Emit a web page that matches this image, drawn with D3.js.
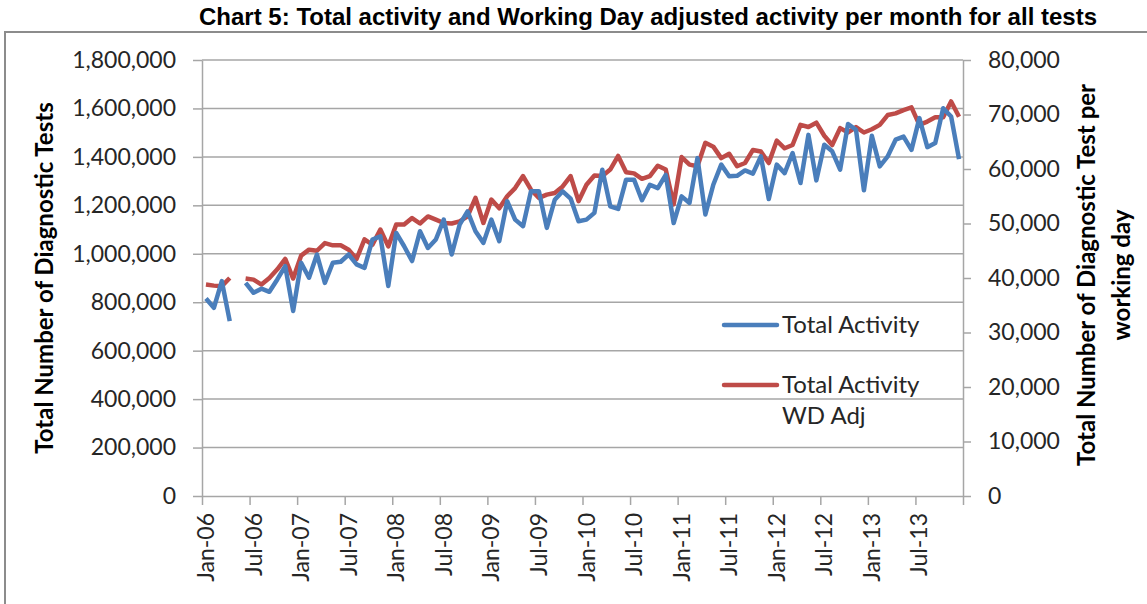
<!DOCTYPE html>
<html>
<head>
<meta charset="utf-8">
<script src="https://cdn.jsdelivr.net/npm/d3@7"></script>
<style>
  body { margin: 0; background: #fff; }
  svg { display: block; }
  .tick text { font-family: Lato, "Open Sans", sans-serif; }
</style>
</head>
<body>
<div id="chart"></div>
<script>
// Chart 5 - total activity vs working day adjusted activity, Jan-06 .. Dec-13
// months run Jan-06 to Dec-13, May-06 has no value
const startMonth = new Date(2006, 0, 1);
const monthCount = 96;

const tickLabels = ['Jan-06', 'Jul-06', 'Jan-07', 'Jul-07', 'Jan-08', 'Jul-08', 'Jan-09', 'Jul-09',
  'Jan-10', 'Jul-10', 'Jan-11', 'Jul-11', 'Jan-12', 'Jul-12', 'Jan-13', 'Jul-13'];

// total activity (left axis)
const totalActivity = [
  815000, 777000, 887000, 722000, null, 880000, 839000, 856000, 843000, 894000, 949000, 764000,
  963000, 901000, 997000, 880000, 963000, 967000, 997000, 956000, 942000, 1059000, 1072000, 867000,
  1086000, 1031000, 970000, 1093000, 1024000, 1059000, 1141000, 997000, 1120000, 1175000, 1093000, 1045000,
  1141000, 1052000, 1217000, 1141000, 1114000, 1258000, 1258000, 1107000, 1223000, 1258000, 1228000, 1134000,
  1141000, 1169000, 1347000, 1196000, 1185000, 1306000, 1306000, 1221000, 1285000, 1271000, 1326000, 1127000,
  1237000, 1210000, 1395000, 1162000, 1285000, 1368000, 1320000, 1322000, 1344000, 1331000, 1402000, 1226000,
  1368000, 1333000, 1416000, 1292000, 1491000, 1303000, 1450000, 1423000, 1347000, 1536000, 1512000, 1262000,
  1487000, 1361000, 1402000, 1471000, 1484000, 1429000, 1560000, 1440000, 1457000, 1601000, 1567000, 1391000
];

// working day adjusted activity (right axis)
const wdAdjusted = [
  38800, 38600, 38500, 40000, null, 39900, 39700, 38800, 40000, 41600, 43500, 39900,
  44100, 45200, 45000, 46400, 46000, 46000, 45200, 43500, 47100, 46100, 48900, 45800,
  49800, 49800, 51000, 50000, 51300, 50700, 50100, 50000, 50400, 51300, 54700, 50100,
  54400, 52800, 55000, 56500, 58700, 56200, 54700, 55300, 55600, 56800, 58700, 54100,
  57100, 58800, 58700, 59900, 62400, 59400, 59200, 58200, 58700, 60600, 59900, 53500,
  62200, 60800, 60500, 64800, 64100, 62000, 62800, 60500, 61100, 63500, 63200, 61100,
  65200, 63800, 64400, 68100, 67700, 68500, 66100, 64400, 67500, 66700, 67700, 66700,
  67300, 68100, 69900, 70200, 70800, 71300, 68100, 68700, 69500, 69500, 72400, 69600
];

const leftTicks = [0, 200000, 400000, 600000, 800000, 1000000, 1200000, 1400000, 1600000, 1800000];
const rightTicks = [0, 10000, 20000, 30000, 40000, 50000, 60000, 70000, 80000];

const W = 1147, H = 604;
const plot = { left: 202, right: 963, top: 60, bottom: 496 };
const blue = '#4a7ebb', red = '#be4b48';
const gridColor = '#a6a6a6';
const font = 'Lato, "Open Sans", sans-serif';

function draw() {
  const svg = d3.select('#chart').append('svg')
    .attr('width', W).attr('height', H);

  // outer frame of the chart object
  svg.append('rect')
    .attr('x', 5).attr('y', 32).attr('width', 1200).attr('height', 700)
    .attr('fill', 'none').attr('stroke', '#8c8c8c').attr('stroke-width', 2);

  svg.append('text')
    .attr('x', 1097).attr('y', 25)
    .attr('text-anchor', 'end')
    .style('font-family', '"Liberation Sans", Arial, sans-serif')
    .style('font-weight', 'bold').style('font-size', '24px')
    .text('Chart 5: Total activity and Working Day adjusted activity per month for all tests');

  const months = d3.timeMonth.range(startMonth, d3.timeMonth.offset(startMonth, monthCount));
  const x = d3.scaleLinear().domain([0, months.length]).range([plot.left, plot.right]);
  const yL = d3.scaleLinear().domain([0, 1800000]).range([plot.bottom, plot.top]);
  const yR = d3.scaleLinear().domain([0, 80000]).range([plot.bottom, plot.top]);

  // gridlines
  svg.append('g').selectAll('line')
    .data(leftTicks.slice(1))
    .enter().append('line')
    .attr('x1', plot.left).attr('x2', plot.right)
    .attr('y1', d => yL(d)).attr('y2', d => yL(d))
    .attr('stroke', gridColor).attr('stroke-width', 1.5);

  const styleAxis = g => {
    g.select('.domain').attr('stroke', gridColor).attr('stroke-width', 1.5);
    g.selectAll('.tick line').attr('stroke', gridColor).attr('stroke-width', 1.5);
    g.selectAll('.tick text').attr('fill', '#262626').style('font-size', '23px');
  };

  svg.append('g')
    .attr('transform', `translate(${plot.left},0)`)
    .call(d3.axisLeft(yL).tickValues(leftTicks).tickFormat(d3.format(',')).tickSize(9).tickPadding(17).tickSizeOuter(0))
    .call(styleAxis);

  svg.append('g')
    .attr('transform', `translate(${plot.right},0)`)
    .call(d3.axisRight(yR).tickValues(rightTicks).tickFormat(d3.format(',')).tickSize(8).tickPadding(17).tickSizeOuter(0))
    .call(styleAxis);

  // x axis: ticks on month boundaries every 6 months, labels centred on the month
  const xAxis = svg.append('g').attr('transform', `translate(0,${plot.bottom})`);
  xAxis.call(d3.axisBottom(x).tickValues(d3.range(0, months.length + 1, 6)).tickFormat('').tickSize(9).tickSizeOuter(0))
    .call(styleAxis);
  xAxis.selectAll('.lbl')
    .data(tickLabels)
    .enter().append('text')
    .attr('class', 'lbl')
    .attr('transform', (d, i) => `translate(${x(i * 6 + 0.5)},17) rotate(-90)`)
    .attr('text-anchor', 'end')
    .attr('dy', '0.35em')
    .attr('fill', '#262626')
    .style('font-family', font)
    .style('font-size', '23px')
    .text(d => d);

  // series lines, gap where there is no value
  const lineL = d3.line().defined(d => d != null).x((d, i) => x(i + 0.5)).y(d => yL(d));
  const lineR = d3.line().defined(d => d != null).x((d, i) => x(i + 0.5)).y(d => yR(d));

  svg.append('path').datum(wdAdjusted)
    .attr('d', lineR).attr('fill', 'none')
    .attr('stroke', red).attr('stroke-width', 4.5).attr('stroke-linejoin', 'round');
  svg.append('path').datum(totalActivity)
    .attr('d', lineL).attr('fill', 'none')
    .attr('stroke', blue).attr('stroke-width', 4.5).attr('stroke-linejoin', 'round');

  // axis titles
  svg.append('text')
    .attr('transform', 'translate(53,278) rotate(-90)')
    .attr('text-anchor', 'middle')
    .style('font-family', font)
    .style('font-weight', 'bold').style('font-size', '24px')
    .text('Total Number of Diagnostic Tests');

  const rt = svg.append('text')
    .attr('transform', 'translate(1095,275) rotate(-90)')
    .attr('text-anchor', 'middle')
    .style('font-family', font)
    .style('font-weight', 'bold').style('font-size', '24px');
  rt.append('tspan').attr('x', 0).attr('y', 0).text('Total Number of Diagnostic Test per');
  rt.append('tspan').attr('x', 0).attr('y', 35).text('working day');

  // legend
  const legend = [
    { name: ['Total Activity'], color: blue, y: 325 },
    { name: ['Total Activity', 'WD Adj'], color: red, y: 385 }
  ];
  const lg = svg.append('g').selectAll('g').data(legend).enter().append('g');
  lg.append('line')
    .attr('x1', 724).attr('x2', 777)
    .attr('y1', d => d.y).attr('y2', d => d.y)
    .attr('stroke', d => d.color).attr('stroke-width', 4.5).attr('stroke-linecap', 'round');
  lg.each(function(d) {
    const t = d3.select(this).append('text')
      .attr('fill', '#262626')
      .style('font-family', font)
      .style('font-size', '24px');
    d.name.forEach((s, k) => {
      t.append('tspan').attr('x', 782).attr('y', d.y + 8 + k * 31).text(s);
    });
  });
}

draw();
</script>
</body>
</html>
